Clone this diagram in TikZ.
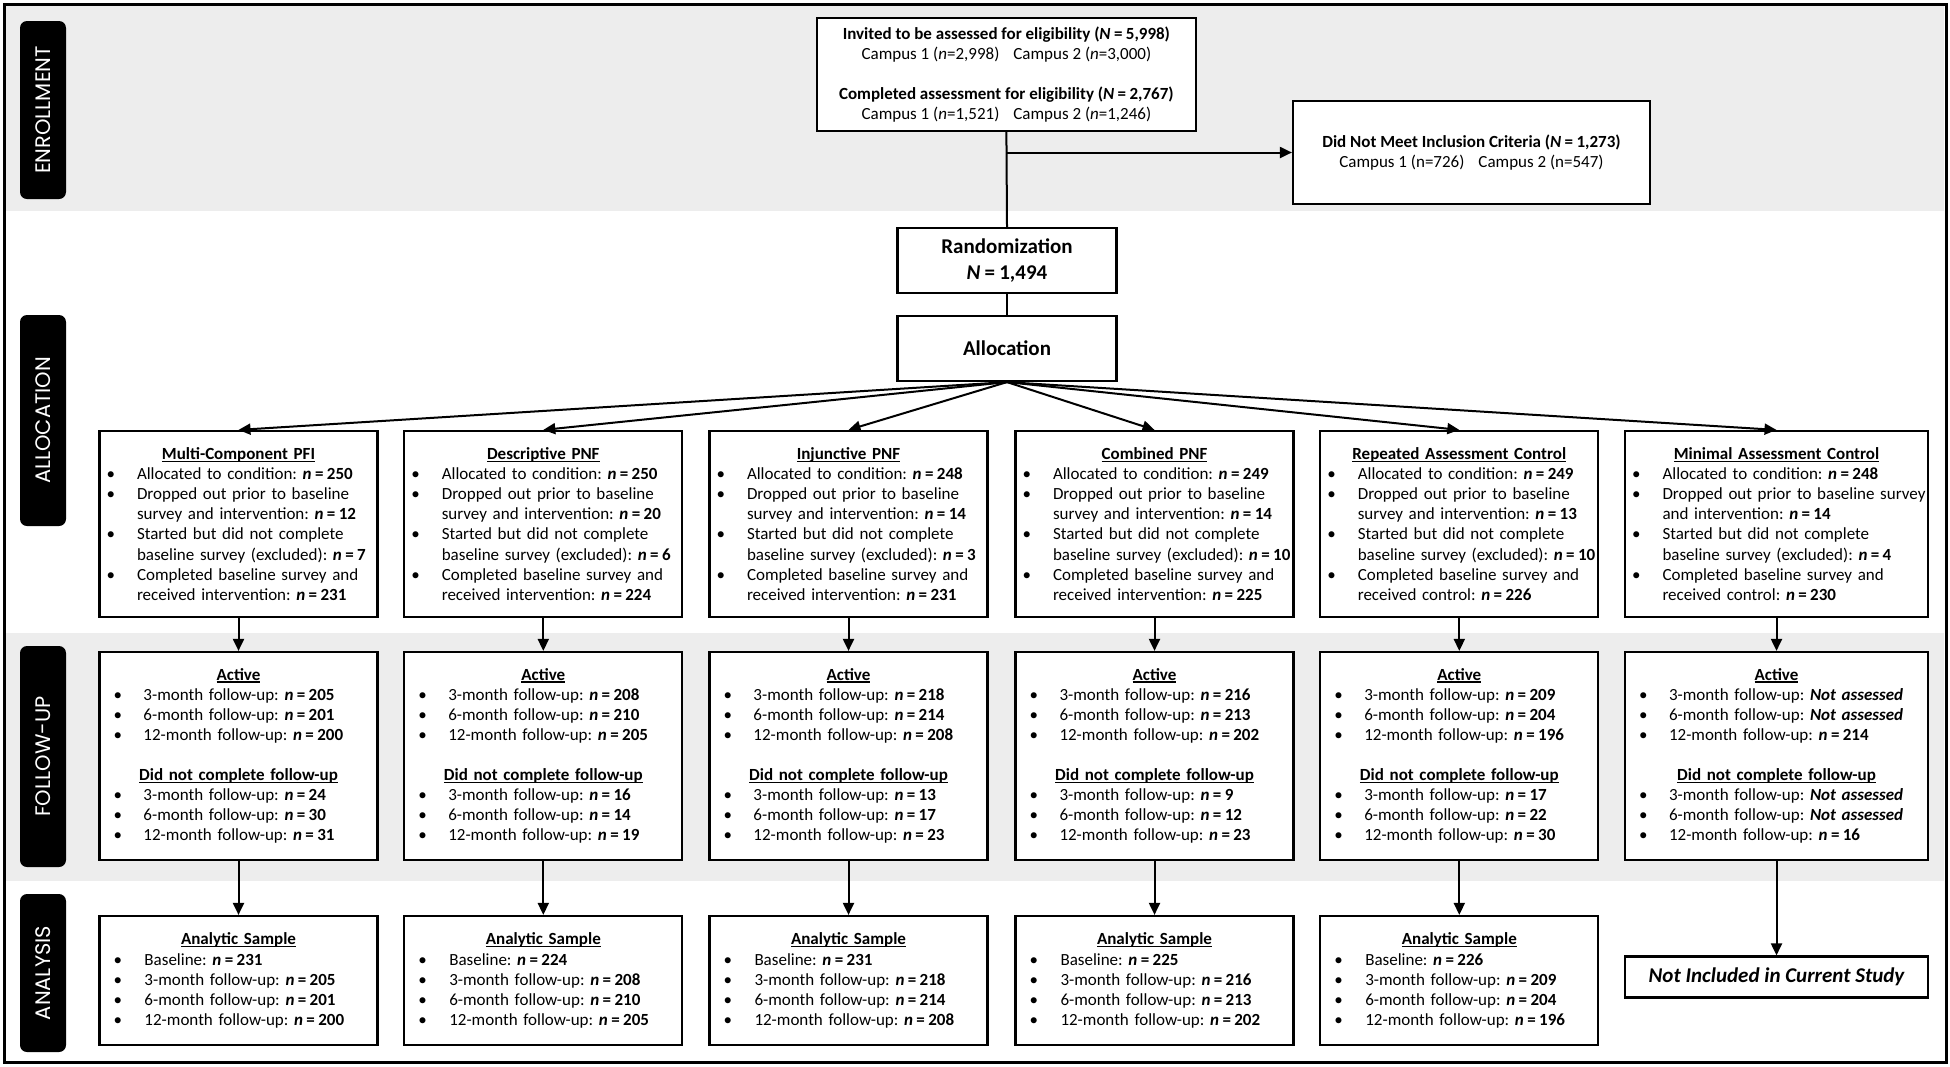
\documentclass[tikz,border=0pt]{standalone}
\usepackage{fontspec}
\setmainfont{Carlito}
\newfontfamily\tabfont{Poppins}
\usetikzlibrary{arrows.meta}
\definecolor{bandgray}{RGB}{237,237,237}
\frenchspacing
\newlength\bpos \newlength\bind
\newcommand\bl[1]{\par\noindent\hangindent=\bind\hangafter=1\makebox[\bind][l]{\hspace{\bpos}•}#1\par}
\newcommand\myul[1]{\setbox0\hbox{#1}\rlap{\rule[-2.4pt]{\wd0}{1.3pt}}\box0}
\newcommand\ttl[1]{{\centering\textbf{\myul{#1}}\par}}
\newcommand\nn[1]{\textbf{\textit{n}\hspace{0.2em}=\hspace{0.2em}#1}}
\newcommand\na{\textbf{\textit{Not assessed}}}
\newcommand\blank{\vspace{20pt}}
\tikzset{
  box/.style={draw=black, line width=2.2pt, fill=white, inner xsep=0pt, inner ysep=0pt, align=left,
    font=\fontsize{17}{20.1}\selectfont},
  cbox/.style={box, align=center},
  abox/.style={box, text width=278pt, minimum height=186pt, execute at begin node={\setlength\bpos{7pt}\setlength\bind{37.5pt}}},
  fbox/.style={box, text width=278pt, minimum height=208pt, execute at begin node={\setlength\bpos{14pt}\setlength\bind{44pt}}},
  sbox/.style={box, text width=278pt, minimum height=129pt, execute at begin node={\setlength\bpos{14pt}\setlength\bind{45pt}}},
  tab/.style={fill=black, rounded corners=7pt, text=white, rotate=90, minimum height=46pt, inner sep=0pt,
    font=\tabfont\fontsize{21}{24}\selectfont},
  line/.style={line width=2pt},
  arr/.style={line width=2pt, -{Triangle[length=12pt,width=11pt]}},
}
\begin{document}
\begin{tikzpicture}[x=1pt,y=-1pt]
\useasboundingbox (0,0) rectangle (1950,1066);
\fill[white] (0,0) rectangle (1950,1066);
% bands
\fill[bandgray] (6,6) rectangle (1944,211);
\fill[bandgray] (6,633) rectangle (1944,881);
\draw[line width=3pt] (4,4) rectangle (1946,1062);
% tabs
\node[tab, minimum width=178pt] (tE) at (43,110) {ENROLLMENT};
\node[tab, minimum width=211pt] (tA) at (43,420.5) {ALLOCATION};
\node[tab, minimum width=221pt] (tF) at (43,756.5) {FOLLOW-UP};
\node[tab, minimum width=158pt] (tS) at (43,973) {ANALYSIS};
% enrollment
\node[cbox, minimum width=379pt, minimum height=113pt] (top) at (1006.4,74.5)
 {\textbf{Invited to be assessed for eligibility (\textit{N}\hspace{0.2em}=\hspace{0.2em}5,998)}\\
  Campus 1 (\textit{n}=2,998)\hspace{14pt}Campus 2 (\textit{n}=3,000)\\[20pt]
  \textbf{Completed assessment for eligibility (\textit{N}\hspace{0.2em}=\hspace{0.2em}2,767)}\\
  Campus 1 (\textit{n}=1,521)\hspace{14pt}Campus 2 (\textit{n}=1,246)};
\node[cbox, minimum width=357pt, minimum height=103pt] (dnm) at (1471.5,152.5)
 {\textbf{Did Not Meet Inclusion Criteria (\textit{N}\hspace{0.2em}=\hspace{0.2em}1,273)}\\
  Campus 1 (n=726)\hspace{14pt}Campus 2 (n=547)};
\node[cbox, minimum width=219pt, minimum height=65pt, font=\fontsize{21}{26}\selectfont\bfseries] (rand) at (1007,260.5)
 {Randomization\\\textit{N}\hspace{0.2em}=\hspace{0.2em}1,494};
\node[cbox, minimum width=219pt, minimum height=65pt, font=\fontsize{21}{26}\selectfont\bfseries] (alloc) at (1007,348.5)
 {Allocation};
% allocation boxes
\node[abox] (a1) at (238.5,524) {\ttl{Multi-Component PFI}
\bl{Allocated to condition: \nn{250}}
\bl{Dropped out prior to baseline\newline survey and intervention: \nn{12}}
\bl{Started but did not complete\newline baseline survey (excluded): \nn{7}}
\bl{Completed baseline survey and\newline received intervention: \nn{231}}};
\node[abox] (a2) at (543.3,524) {\ttl{Descriptive PNF}
\bl{Allocated to condition: \nn{250}}
\bl{Dropped out prior to baseline\newline survey and intervention: \nn{20}}
\bl{Started but did not complete\newline baseline survey (excluded): \nn{6}}
\bl{Completed baseline survey and\newline received intervention: \nn{224}}};
\node[abox] (a3) at (848.5,524) {\ttl{Injunctive PNF}
\bl{Allocated to condition: \nn{248}}
\bl{Dropped out prior to baseline\newline survey and intervention: \nn{14}}
\bl{Started but did not complete\newline baseline survey (excluded): \nn{3}}
\bl{Completed baseline survey and\newline received intervention: \nn{231}}};
\node[abox] (a4) at (1154.5,524) {\ttl{Combined PNF}
\bl{Allocated to condition: \nn{249}}
\bl{Dropped out prior to baseline\newline survey and intervention: \nn{14}}
\bl{Started but did not complete\newline baseline survey (excluded): \nn{10}}
\bl{Completed baseline survey and\newline received intervention: \nn{225}}};
\node[abox] (a5) at (1459.3,524) {\ttl{Repeated Assessment Control}
\bl{Allocated to condition: \nn{249}}
\bl{Dropped out prior to baseline\newline survey and intervention: \nn{13}}
\bl{Started but did not complete\newline baseline survey (excluded): \nn{10}}
\bl{Completed baseline survey and\newline received control: \nn{226}}};
\node[abox, text width=303pt] (a6) at (1776.5,524) {\ttl{Minimal Assessment Control}
\bl{Allocated to condition: \nn{248}}
\bl{Dropped out prior to baseline survey\newline and intervention: \nn{14}}
\bl{Started but did not complete\newline baseline survey (excluded): \nn{4}}
\bl{Completed baseline survey and\newline received control: \nn{230}}};
% follow-up boxes
\node[fbox] (f1) at (238.5,756) {\ttl{Active}
\bl{3-month follow-up: \nn{205}}\bl{6-month follow-up: \nn{201}}\bl{12-month follow-up: \nn{200}}\blank
\ttl{Did not complete follow-up}
\bl{3-month follow-up: \nn{24}}\bl{6-month follow-up: \nn{30}}\bl{12-month follow-up: \nn{31}}};
\node[fbox] (f2) at (543.3,756) {\ttl{Active}
\bl{3-month follow-up: \nn{208}}\bl{6-month follow-up: \nn{210}}\bl{12-month follow-up: \nn{205}}\blank
\ttl{Did not complete follow-up}
\bl{3-month follow-up: \nn{16}}\bl{6-month follow-up: \nn{14}}\bl{12-month follow-up: \nn{19}}};
\node[fbox] (f3) at (848.5,756) {\ttl{Active}
\bl{3-month follow-up: \nn{218}}\bl{6-month follow-up: \nn{214}}\bl{12-month follow-up: \nn{208}}\blank
\ttl{Did not complete follow-up}
\bl{3-month follow-up: \nn{13}}\bl{6-month follow-up: \nn{17}}\bl{12-month follow-up: \nn{23}}};
\node[fbox] (f4) at (1154.5,756) {\ttl{Active}
\bl{3-month follow-up: \nn{216}}\bl{6-month follow-up: \nn{213}}\bl{12-month follow-up: \nn{202}}\blank
\ttl{Did not complete follow-up}
\bl{3-month follow-up: \nn{9}}\bl{6-month follow-up: \nn{12}}\bl{12-month follow-up: \nn{23}}};
\node[fbox] (f5) at (1459.3,756) {\ttl{Active}
\bl{3-month follow-up: \nn{209}}\bl{6-month follow-up: \nn{204}}\bl{12-month follow-up: \nn{196}}\blank
\ttl{Did not complete follow-up}
\bl{3-month follow-up: \nn{17}}\bl{6-month follow-up: \nn{22}}\bl{12-month follow-up: \nn{30}}};
\node[fbox, text width=303pt] (f6) at (1776.5,756) {\ttl{Active}
\bl{3-month follow-up: \na}\bl{6-month follow-up: \na}\bl{12-month follow-up: \nn{214}}\blank
\ttl{Did not complete follow-up}
\bl{3-month follow-up: \na}\bl{6-month follow-up: \na}\bl{12-month follow-up: \nn{16}}};
% analysis boxes
\node[sbox] (s1) at (238.5,980.5) {\ttl{Analytic Sample}
\bl{Baseline: \nn{231}}\bl{3-month follow-up: \nn{205}}\bl{6-month follow-up: \nn{201}}\bl{12-month follow-up: \nn{200}}};
\node[sbox] (s2) at (543.3,980.5) {\ttl{Analytic Sample}
\bl{Baseline: \nn{224}}\bl{3-month follow-up: \nn{208}}\bl{6-month follow-up: \nn{210}}\bl{12-month follow-up: \nn{205}}};
\node[sbox] (s3) at (848.5,980.5) {\ttl{Analytic Sample}
\bl{Baseline: \nn{231}}\bl{3-month follow-up: \nn{218}}\bl{6-month follow-up: \nn{214}}\bl{12-month follow-up: \nn{208}}};
\node[sbox] (s4) at (1154.5,980.5) {\ttl{Analytic Sample}
\bl{Baseline: \nn{225}}\bl{3-month follow-up: \nn{216}}\bl{6-month follow-up: \nn{213}}\bl{12-month follow-up: \nn{202}}};
\node[sbox] (s5) at (1459.3,980.5) {\ttl{Analytic Sample}
\bl{Baseline: \nn{226}}\bl{3-month follow-up: \nn{209}}\bl{6-month follow-up: \nn{204}}\bl{12-month follow-up: \nn{196}}};
\node[cbox, minimum width=303pt, minimum height=41pt, font=\fontsize{21}{25}\selectfont\bfseries\itshape] (ni) at (1776.5,977)
 {Not Included in Current Study};
% connectors
\coordinate (br) at (top.south |- dnm.west);
\draw[line] (top.south) -- (rand.north);
\draw[arr] (br) -- (dnm.west);
\draw[line] (rand.south) -- (alloc.north);
\foreach \k in {1,...,6} {
  \draw[arr] (alloc.south) -- (a\k.north);
  \draw[arr] (a\k.south) -- (f\k.north);
}
\foreach \k in {1,...,5} {
  \draw[arr] (f\k.south) -- (s\k.north);
}
\draw[arr] (f6.south) -- (ni.north);
\end{tikzpicture}
\end{document}
